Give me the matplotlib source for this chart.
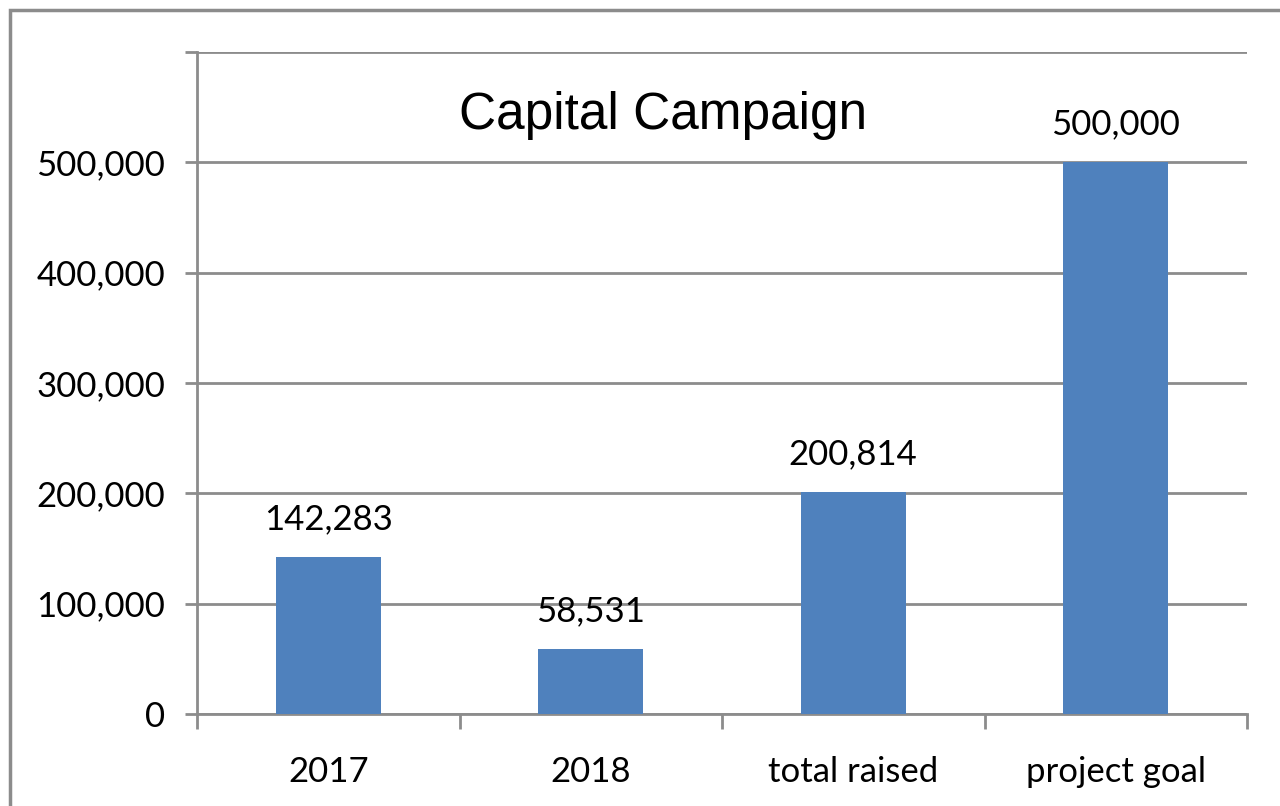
import matplotlib.pyplot as plt
from matplotlib.patches import Rectangle

categories = ["2017", "2018", "total raised", "project goal"]
amounts = [142283, 58531, 200814, 500000]
y_ticks = [0, 100000, 200000, 300000, 400000, 500000, 600000]
tick_labels = ["0", "100,000", "200,000", "300,000", "400,000", "500,000", ""]

grey = "#8c8c8c"
bar_blue = "#4f81bd"
label_font = ["Lato", "DejaVu Sans"]
fs = 25

fig = plt.figure(figsize=(12.8, 8.06), dpi=100)
# outer chart border (only top and left visible in the crop)
fig.patches.append(Rectangle((10 / 1280, -0.1), 1.2, (806 - 10) / 806 + 0.1,
                             transform=fig.transFigure, fill=False,
                             edgecolor=grey, linewidth=2.5))

ax = fig.add_axes([197 / 1280, (806 - 714) / 806, 1050 / 1280, (714 - 52) / 806])

x = list(range(len(categories)))
ax.bar(x, amounts, width=0.4, color=bar_blue, zorder=3)
ax.set_xlim(-0.5, len(categories) - 0.5)
ax.set_ylim(0, 600000)

for xi, v in zip(x, amounts):
    ax.text(xi, v + 20000, f"{v:,}", ha="center", va="bottom",
            fontsize=fs, family=label_font, color="black")

ax.set_yticks(y_ticks)
ax.set_yticklabels(tick_labels, family=label_font, fontsize=fs)
ax.yaxis.grid(True, color=grey, linewidth=2, zorder=0)
ax.tick_params(axis="y", length=9, width=2, color=grey, pad=14)

ax.set_xticks([i + 0.5 for i in range(-1, len(categories))])
ax.set_xticklabels([])
ax.tick_params(axis="x", length=11, width=2, color=grey)
ax.set_xticks(x, minor=True)
ax.set_xticklabels(categories, minor=True, family=label_font, fontsize=fs)
ax.tick_params(axis="x", which="minor", length=0, pad=30)

for side in ["top", "right"]:
    ax.spines[side].set_visible(False)
for side in ["left", "bottom"]:
    ax.spines[side].set_color(grey)
    ax.spines[side].set_linewidth(2)

fig.text(663 / 1280, 1 - 115 / 806, "Capital Campaign", ha="center", va="center",
         fontsize=37, family=["Liberation Sans", "DejaVu Sans"])

fig.savefig("out.png", dpi=100)
